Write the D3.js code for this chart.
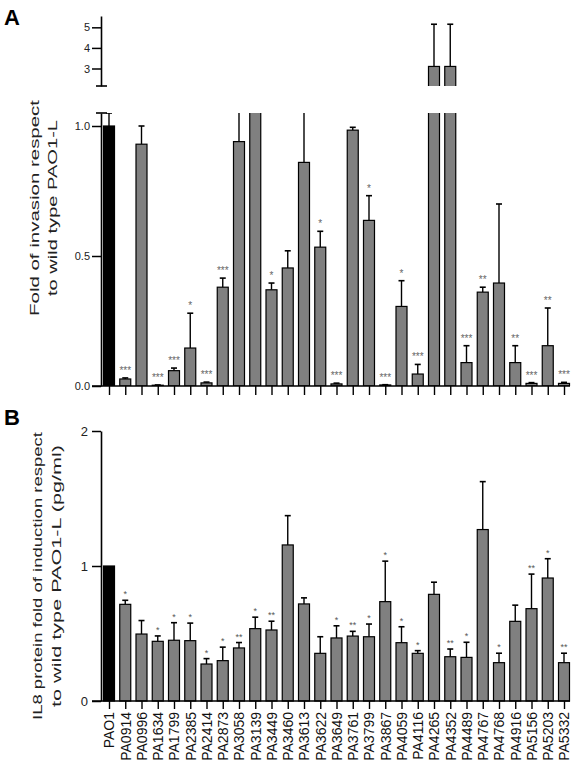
<!DOCTYPE html>
<html>
<head>
<meta charset="utf-8">
<script src="https://cdn.jsdelivr.net/npm/d3@7"></script>
<style>
  html, body { margin: 0; padding: 0; background: #fff; }
  svg { display: block; font-family: "Liberation Sans", Arial, sans-serif; }
</style>
</head>
<body>
<svg id="chart" width="577" height="770"></svg>
<script>
const categories = ["PAO1","PA0914","PA0996","PA1634","PA1799","PA2385","PA2414","PA2873","PA3058","PA3139",
  "PA3449","PA3460","PA3613","PA3622","PA3649","PA3761","PA3799","PA3867","PA4059","PA4116",
  "PA4265","PA4352","PA4489","PA4767","PA4768","PA4916","PA5156","PA5203","PA5332"];

// Panel A: fold of invasion
const invasion    = [1.0, 0.027, 0.93, 0.003, 0.059, 0.146, 0.012, 0.38, 0.94, 1.5,
  0.37, 0.454, 0.86, 0.534, 0.008, 0.984, 0.637, 0.004, 0.306, 0.046,
  3.1, 3.1, 0.09, 0.361, 0.396, 0.09, 0.01, 0.155, 0.01];
const invasionErr = [0.05, 0.004, 0.07, 0.001, 0.01, 0.134, 0.003, 0.035, 0.2, 0.2,
  0.026, 0.066, 0.3, 0.061, 0.003, 0.011, 0.095, 0.001, 0.099, 0.037,
  2.05, 2.05, 0.065, 0.019, 0.304, 0.065, 0.003, 0.145, 0.004];
const starsA = ["", "***", "", "***", "***", "*", "***", "***", "", "",
  "*", "", "", "*", "***", "", "*", "***", "*", "***",
  "", "", "***", "**", "", "**", "***", "**", "***"];
const ticksALow = [0.0, 0.5, 1.0];
const ticksAHigh = [3, 4, 5];

// Panel B: IL8 fold of induction
const il8    = [1.0, 0.716, 0.496, 0.442, 0.45, 0.447, 0.274, 0.299, 0.393, 0.536,
  0.526, 1.156, 0.719, 0.353, 0.467, 0.481, 0.476, 0.736, 0.432, 0.353,
  0.79, 0.328, 0.323, 1.27, 0.284, 0.59, 0.684, 0.911, 0.284];
const il8Err = [0, 0.03, 0.10, 0.04, 0.13, 0.13, 0.04, 0.10, 0.04, 0.085,
  0.065, 0.217, 0.045, 0.123, 0.09, 0.035, 0.094, 0.30, 0.118, 0.02,
  0.09, 0.057, 0.112, 0.355, 0.07, 0.12, 0.256, 0.143, 0.07];
const starsB = ["", "*", "", "*", "*", "*", "*", "*", "**", "*",
  "**", "", "", "", "*", "**", "*", "*", "*", "*",
  "", "**", "*", "", "*", "", "**", "*", "**"];
const ticksB = [0, 1, 2];

const svg = d3.select("#chart");
const GREY = "#808080";
const barW = 11;
const x = d3.scalePoint().domain(categories).range([109, 564]);

const defs = svg.append("defs");
defs.append("clipPath").attr("id", "clipLow").append("rect").attr("x", 0).attr("y", 113).attr("width", 577).attr("height", 273);
defs.append("clipPath").attr("id", "clipHigh").append("rect").attr("x", 0).attr("y", 14).attr("width", 577).attr("height", 72);

// ---------- Panel A ----------
const yLow = d3.scaleLinear().domain([0, 1.05]).range([386, 113]);
const yHigh = d3.scaleLinear().domain([2.15, 5.55]).range([86, 16]);

function drawBars(g, data, errs, y, baseY, show) {
  const vis = (d, i) => (show(i) ? null : "none");
  g.selectAll("line.err").data(categories).join("line").attr("class", "err")
    .attr("x1", d => x(d)).attr("x2", d => x(d))
    .attr("y1", (d, i) => y(data[i])).attr("y2", (d, i) => y(data[i] + errs[i]))
    .attr("stroke", "#000").attr("stroke-width", 1.4)
    .attr("display", vis);
  g.selectAll("line.cap").data(categories).join("line").attr("class", "cap")
    .attr("x1", d => x(d) - 3).attr("x2", d => x(d) + 3)
    .attr("y1", (d, i) => y(data[i] + errs[i])).attr("y2", (d, i) => y(data[i] + errs[i]))
    .attr("stroke", "#000").attr("stroke-width", 1.6)
    .attr("display", (d, i) => (show(i) && errs[i] > 0) ? null : "none");
  g.selectAll("rect").data(categories).join("rect")
    .attr("x", d => x(d) - barW / 2).attr("width", barW)
    .attr("y", (d, i) => y(data[i]))
    .attr("height", (d, i) => Math.max(0.6, baseY - y(data[i])))
    .attr("fill", (d, i) => i === 0 ? "#000" : GREY)
    .attr("stroke", "#000").attr("stroke-width", 1.2)
    .attr("display", vis);
}

const gLow = svg.append("g").attr("clip-path", "url(#clipLow)");
drawBars(gLow, invasion, invasionErr, yLow, 386, () => true);

const gHigh = svg.append("g").attr("clip-path", "url(#clipHigh)");
drawBars(gHigh, invasion, invasionErr, yHigh, 96, i => invasion[i] > 2.15);

// stars A
svg.append("g").selectAll("text").data(categories).join("text")
  .attr("x", d => x(d)).attr("y", (d, i) => Math.max(yLow(invasion[i] + invasionErr[i]), 113) - 4)
  .attr("text-anchor", "middle").attr("font-size", 10).attr("fill", "#666")
  .text((d, i) => starsA[i]);

// y axes A
const axLow = svg.append("g").attr("transform", "translate(101,0)")
  .call(d3.axisLeft(yLow).tickValues(ticksALow).tickFormat(d3.format(".1f")).tickSize(9).tickSizeOuter(0));
const axHigh = svg.append("g").attr("transform", "translate(101,0)")
  .call(d3.axisLeft(yHigh).tickValues(ticksAHigh).tickFormat(d3.format("d")).tickSize(9).tickSizeOuter(0));
[axLow, axHigh].forEach(a => {
  a.select(".domain").attr("stroke-width", 1.6);
  a.selectAll(".tick line").attr("stroke-width", 1.5);
  a.selectAll(".tick text").attr("font-size", 11).attr("fill", "#222").attr("dx", 1);
});
// break caps
[113, 86].forEach(yy => svg.append("line").attr("x1", 96).attr("x2", 107).attr("y1", yy).attr("y2", yy)
  .attr("stroke", "#000").attr("stroke-width", 1.6));

// x axis A
const axA = svg.append("g").attr("transform", "translate(0,386)")
  .call(d3.axisBottom(x).tickFormat("").tickSize(9).tickSizeOuter(0));
axA.select(".domain").remove();
axA.selectAll(".tick line").attr("stroke-width", 1.4);
svg.append("line").attr("x1", 92).attr("x2", 570).attr("y1", 386).attr("y2", 386).attr("stroke", "#000").attr("stroke-width", 1.6);

// title A
const tA = svg.append("g").attr("transform", "translate(0,208) rotate(-90)");
tA.append("text").attr("x", 0).attr("y", 39).attr("text-anchor", "middle").attr("font-size", 13)
  .attr("textLength", 216).attr("lengthAdjust", "spacingAndGlyphs").attr("fill", "#222").text("Fold of invasion respect");
tA.append("text").attr("x", 0).attr("y", 57).attr("text-anchor", "middle").attr("font-size", 13)
  .attr("textLength", 176).attr("lengthAdjust", "spacingAndGlyphs").attr("fill", "#222").text("to wild type PAO1-L");

svg.append("text").attr("x", 4).attr("y", 25).attr("font-size", 22).attr("font-weight", "bold").text("A");

// ---------- Panel B ----------
const yB = d3.scaleLinear().domain([0, 2]).range([701, 431]);
const gB = svg.append("g");
drawBars(gB, il8, il8Err, yB, 701, () => true);

svg.append("g").selectAll("text").data(categories).join("text")
  .attr("x", d => x(d)).attr("y", (d, i) => yB(il8[i] + il8Err[i]) - 3)
  .attr("text-anchor", "middle").attr("font-size", 9).attr("fill", "#555")
  .text((d, i) => starsB[i]);

const axB = svg.append("g").attr("transform", "translate(101,0)")
  .call(d3.axisLeft(yB).tickValues(ticksB).tickFormat(d3.format("d")).tickSize(9).tickSizeOuter(0));
axB.select(".domain").attr("stroke-width", 1.6);
axB.selectAll(".tick line").attr("stroke-width", 1.5);
axB.selectAll(".tick text").attr("font-size", 13).attr("fill", "#222").attr("dx", -1);

const axBx = svg.append("g").attr("transform", "translate(0,701)")
  .call(d3.axisBottom(x).tickSize(8).tickSizeOuter(0));
axBx.select(".domain").remove();
axBx.selectAll(".tick line").attr("stroke-width", 1.4);
axBx.selectAll(".tick text")
  .attr("font-size", 14).attr("fill", "#111")
  .attr("transform", "rotate(-90)").attr("text-anchor", "end")
  .attr("x", -11).attr("y", 0).attr("dy", "0.35em");
svg.append("line").attr("x1", 92).attr("x2", 570).attr("y1", 701).attr("y2", 701).attr("stroke", "#000").attr("stroke-width", 1.6);

const tB = svg.append("g").attr("transform", "translate(0,576) rotate(-90)");
tB.append("text").attr("x", 0).attr("y", 42).attr("text-anchor", "middle").attr("font-size", 13.5)
  .attr("textLength", 288).attr("lengthAdjust", "spacingAndGlyphs").attr("fill", "#222").text("IL8 protein fold of induction respect");
tB.append("text").attr("x", 0).attr("y", 61).attr("text-anchor", "middle").attr("font-size", 13.5)
  .attr("textLength", 262).attr("lengthAdjust", "spacingAndGlyphs").attr("fill", "#222").text("to wild type PAO1-L (pg/ml)");

svg.append("text").attr("x", 4).attr("y", 425).attr("font-size", 22).attr("font-weight", "bold").text("B");
</script>
</body>
</html>
